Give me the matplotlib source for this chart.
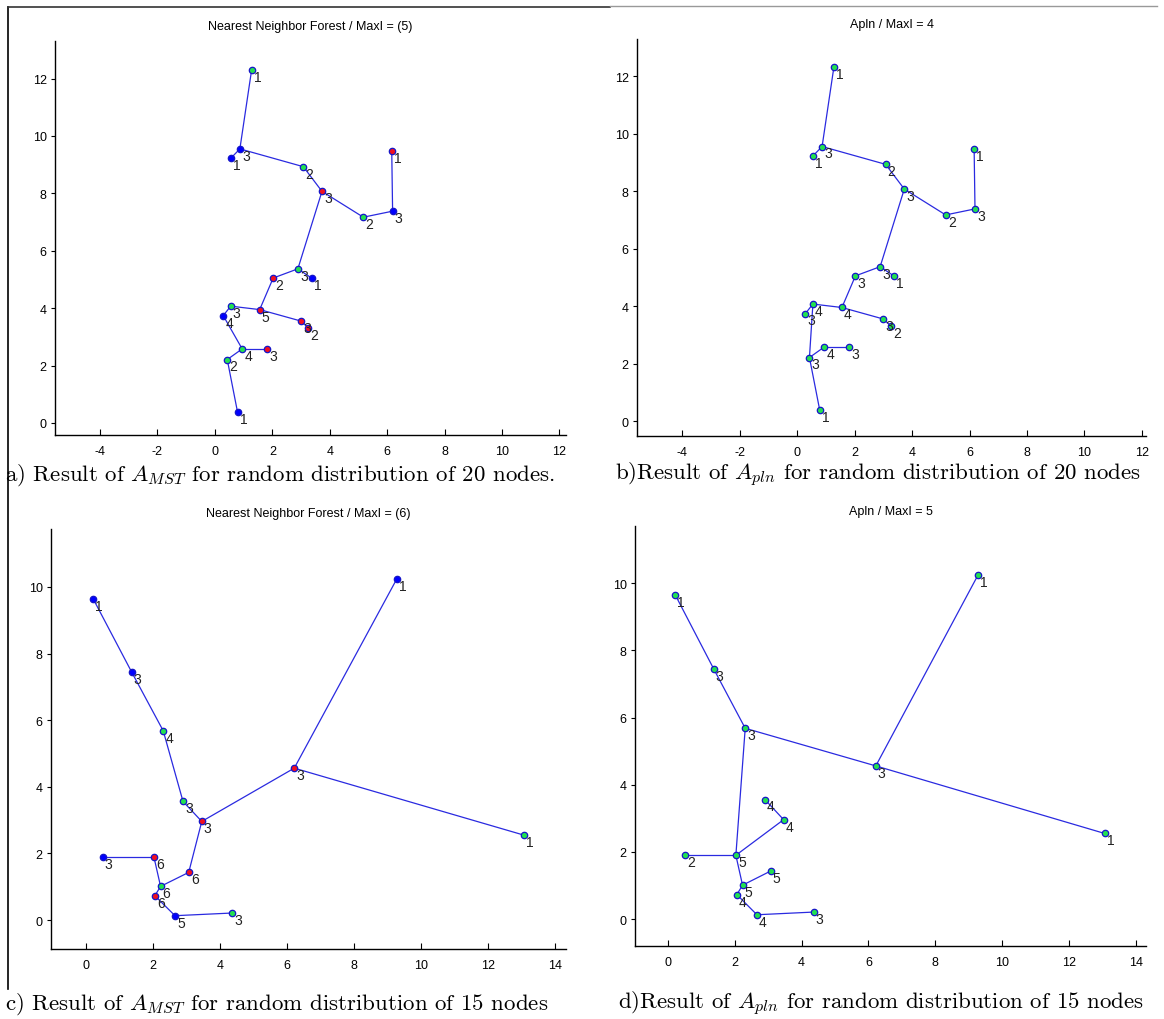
import numpy as np
import matplotlib
matplotlib.use("Agg")
import matplotlib.pyplot as plt
from matplotlib.lines import Line2D

plt.rcParams["font.family"] = ["Liberation Sans", "DejaVu Sans"]
plt.rcParams["mathtext.fontset"] = "cm"
plt.rcParams["axes.unicode_minus"] = False

# -----------------------------
# 1. DATA
# -----------------------------
# 20-node layout (panels a and b)
x20 = [1.28, 0.87, 0.55, 3.08, 3.73, 5.17, 6.19, 6.16, 2.89, 3.38,
       2.03, 1.56, 0.55, 0.29, 3.00, 3.26, 0.95, 1.81, 0.43, 0.79]
y20 = [12.31, 9.55, 9.22, 8.93, 8.07, 7.17, 7.38, 9.47, 5.37, 5.04,
       5.05, 3.95, 4.07, 3.74, 3.55, 3.31, 2.58, 2.58, 2.21, 0.37]
labels_a = [1, 3, 1, 2, 3, 2, 3, 1, 3, 1, 2, 5, 3, 4, 3, 2, 4, 3, 2, 1]
colors_a = ["g", "b", "b", "g", "r", "g", "b", "r", "g", "b",
            "r", "r", "g", "b", "r", "r", "g", "r", "g", "b"]
edges_a = [(0, 1), (1, 2), (1, 3), (3, 4), (4, 5), (5, 6), (6, 7), (4, 8), (8, 9),
           (8, 10), (10, 11), (11, 12), (11, 14), (14, 15), (12, 13), (13, 16),
           (16, 17), (16, 18), (18, 19)]
labels_b = [1, 3, 1, 2, 3, 2, 3, 1, 3, 1, 3, 4, 4, 3, 3, 2, 4, 3, 3, 1]
edges_b = [(0, 1), (1, 2), (1, 3), (3, 4), (4, 5), (5, 6), (6, 7), (4, 8), (8, 9),
           (8, 10), (10, 11), (11, 12), (11, 14), (14, 15), (12, 13), (12, 18),
           (16, 17), (16, 18), (18, 19)]

# 15-node layout (panels c and d)
x15 = [0.22, 1.37, 2.31, 2.90, 3.46, 6.22, 9.28, 13.07, 3.07, 2.23, 2.03, 0.50, 2.06, 2.66, 4.36]
y15 = [9.64, 7.44, 5.68, 3.56, 2.96, 4.56, 10.24, 2.55, 1.43, 1.01, 1.90, 1.90, 0.73, 0.13, 0.21]
labels_c = [1, 3, 4, 3, 3, 3, 1, 1, 6, 6, 6, 3, 6, 5, 3]
colors_c = ["b", "b", "g", "g", "r", "r", "b", "g", "r", "g", "r", "b", "r", "b", "g"]
edges_c = [(0, 1), (1, 2), (2, 3), (3, 4), (4, 5), (5, 6), (5, 7), (4, 8), (8, 9),
           (9, 10), (10, 11), (9, 12), (12, 13), (13, 14)]
labels_d = [1, 3, 3, 4, 4, 3, 1, 1, 5, 5, 5, 2, 4, 4, 3]
edges_d = [(0, 1), (1, 2), (2, 5), (5, 6), (5, 7), (2, 10), (10, 11), (10, 4), (4, 3),
           (10, 9), (9, 8), (9, 12), (12, 13), (13, 14)]

titles = ["Nearest Neighbor Forest / MaxI = (5)", "Apln / MaxI = 4",
          "Nearest Neighbor Forest / MaxI = (6)", "Apln / MaxI = 5"]
captions = [r"a) Result of $A_{MST}$ for random distribution of 20 nodes.",
            r"b)Result of $A_{pln}$ for random distribution of 20 nodes",
            r"c) Result of $A_{MST}$ for random distribution of 15 nodes",
            r"d)Result of $A_{pln}$ for random distribution of 15 nodes"]

face = {"b": "#0000ff", "g": "#22e050", "r": "#f01020"}

# -----------------------------
# 2. FIGURE
# -----------------------------
W, H = 1164, 1020
fig = plt.figure(figsize=(W / 100, H / 100), dpi=100)


def px_axes(l, t, r, b):
    return fig.add_axes([l / W, 1 - b / H, (r - l) / W, (b - t) / H])


def draw_tree(ax, xs, ys, edges, labels, colors, xlim, ylim, xticks, yticks, title):
    for i, j in edges:
        ax.plot([xs[i], xs[j]], [ys[i], ys[j]], color="#2a2ae0", lw=0.9, zorder=1)
    for k in range(len(xs)):
        ax.plot(xs[k], ys[k], "o", ms=4.6, mfc=face[colors[k]], mec="#1515c8",
                mew=0.9, zorder=2)
        ax.annotate(str(labels[k]), (xs[k], ys[k]), xytext=(1.5, -5),
                    textcoords="offset points", ha="left", va="center",
                    fontsize=10, color="#222222")
    ax.set_xlim(*xlim)
    ax.set_ylim(*ylim)
    ax.set_xticks(xticks)
    ax.set_yticks(yticks)
    for s in ["top", "right"]:
        ax.spines[s].set_visible(False)
    ax.spines["left"].set_linewidth(1.0)
    ax.spines["bottom"].set_linewidth(1.0)
    ax.tick_params(axis="x", direction="in", length=4, labelsize=9, pad=7)
    ax.tick_params(axis="y", direction="out", length=3, labelsize=9, pad=3)
    ax.set_title(title, fontsize=9, pad=9)


ax_a = px_axes(55, 42, 566, 436)
draw_tree(ax_a, x20, y20, edges_a, labels_a, colors_a, (-5.57, 12.23), (-0.42, 13.31),
          np.arange(-4, 13, 2), np.arange(0, 13, 2), titles[0])

ax_b = px_axes(637, 40, 1146, 437)
draw_tree(ax_b, x20, y20, edges_b, labels_b, ["g"] * 20, (-5.57, 12.14), (-0.52, 13.29),
          np.arange(-4, 13, 2), np.arange(0, 13, 2), titles[1])

ax_c = px_axes(51, 530, 566, 950)
draw_tree(ax_c, x15, y15, edges_c, labels_c, colors_c, (-1.04, 14.33), (-0.87, 11.74),
          np.arange(0, 15, 2), np.arange(0, 11, 2), titles[2])

ax_d = px_axes(635, 527, 1146, 947)
draw_tree(ax_d, x15, y15, edges_d, labels_d, ["g"] * 15, (-0.99, 14.31), (-0.80, 11.7),
          np.arange(0, 15, 2), np.arange(0, 11, 2), titles[3])

# captions under each panel
cap_pos = [(5, 475), (615, 475), (5, 1004), (618, 1004)]
for (cx, cy), txt in zip(cap_pos, captions):
    fig.text(cx / W, 1 - cy / H, txt, fontsize=16.5, family="cmr10",
             ha="left", va="center")

# frame lines left over from the page
fig.add_artist(Line2D([8 / W, 8 / W], [1 - 8 / H, 1 - 990 / H], color="black", lw=1.2))
fig.add_artist(Line2D([8 / W, 610 / W], [1 - 8 / H, 1 - 8 / H], color="#333333", lw=1.2))
fig.add_artist(Line2D([610 / W, 1157 / W], [1 - 7 / H, 1 - 7 / H], color="#999999", lw=1.0))

fig.savefig("out.png", dpi=100)
